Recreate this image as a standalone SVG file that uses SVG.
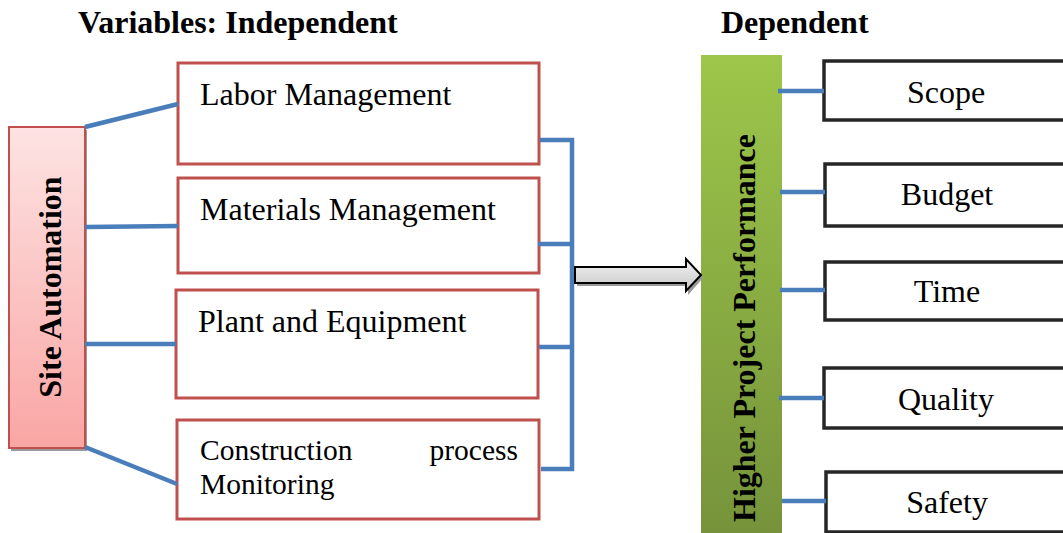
<svg xmlns="http://www.w3.org/2000/svg" width="1063" height="533" viewBox="0 0 1063 533">
<defs>
<linearGradient id="pink" x1="0" y1="0" x2="0" y2="1"><stop offset="0" stop-color="#fde3e3"/><stop offset="1" stop-color="#f9a6a4"/></linearGradient>
<linearGradient id="green" x1="0" y1="0" x2="0" y2="1"><stop offset="0" stop-color="#9dc64a"/><stop offset="1" stop-color="#76933b"/></linearGradient>
<linearGradient id="gray" x1="0" y1="0" x2="0" y2="1"><stop offset="0" stop-color="#f2f2f2"/><stop offset="1" stop-color="#c8c8c8"/></linearGradient>
</defs>
<style>
.t{font-family:"Liberation Serif","Times New Roman",serif;fill:#000}
.h{font-weight:bold;font-size:32px}
.lab{font-size:32px}
.sm{font-size:29.5px}
.red{fill:#fff;stroke:#c0504d;stroke-width:3}
.blk{fill:#fff;stroke:#262626;stroke-width:3.5}
.c{stroke:#4a7ebb;stroke-width:4.5;fill:none}
</style>
<text class="t h" x="78" y="33">Variables: Independent</text>
<text class="t h" x="721" y="33">Dependent</text>
<g id="site">
<rect x="11" y="130" width="76" height="321" fill="#9a9a9a"/>
<rect x="9" y="127" width="76" height="321" fill="url(#pink)" stroke="#c0504d" stroke-width="2"/>
<text class="t h" transform="translate(61,287) rotate(-90)" text-anchor="middle" font-size="31">Site Automation</text>
</g>
<g id="labor"><rect class="red" x="178" y="63" width="361" height="101"/><text class="t lab" x="200" y="105">Labor Management</text></g>
<g id="materials"><rect class="red" x="178" y="178" width="361" height="95"/><text class="t lab" x="200" y="220">Materials Management</text></g>
<g id="plant"><rect class="red" x="176" y="290" width="362" height="108"/><text class="t lab" x="198" y="332">Plant and Equipment</text></g>
<g id="monitoring"><rect class="red" x="177" y="420" width="362" height="99"/><text class="t sm" x="200" y="460">Construction</text><text class="t sm" x="518" y="460" text-anchor="end">process</text><text class="t sm" x="200" y="494">Monitoring</text></g>
<g id="hpp">
<rect x="701" y="55" width="81" height="478" fill="url(#green)"/>
<text class="t h" transform="translate(755,328) rotate(-90)" text-anchor="middle" font-size="31">Higher Project Performance</text>
</g>
<g id="scope"><rect class="blk" x="824" y="61" width="250" height="59"/><text class="t lab" x="946" y="103" text-anchor="middle">Scope</text></g>
<g id="budget"><rect class="blk" x="825" y="164" width="250" height="62"/><text class="t lab" x="947" y="205" text-anchor="middle">Budget</text></g>
<g id="time"><rect class="blk" x="825" y="262" width="250" height="58"/><text class="t lab" x="947" y="302" text-anchor="middle">Time</text></g>
<g id="quality"><rect class="blk" x="824" y="368" width="250" height="60"/><text class="t lab" x="946" y="410" text-anchor="middle">Quality</text></g>
<g id="safety"><rect class="blk" x="826" y="472" width="250" height="60"/><text class="t lab" x="947" y="513" text-anchor="middle">Safety</text></g>
<g id="connectors">
<path class="c" d="M85 127L178 104M85 227L178 226M85 344L176 344M85 447L177 484"/>
<path class="c" d="M540 140H572V469H541M538 244H572M539 347H572"/>
<path class="c" d="M778 91H824M780 192H825M780 290H825M779 398H824M782 501H826"/>
<path d="M577 269H688V261L703 278L688 295V286H577Z" fill="#999"/>
<path d="M575 267H686V259L701 275L686 291V283H575Z" fill="url(#gray)" stroke="#000" stroke-width="2"/>
</g>
</svg>
